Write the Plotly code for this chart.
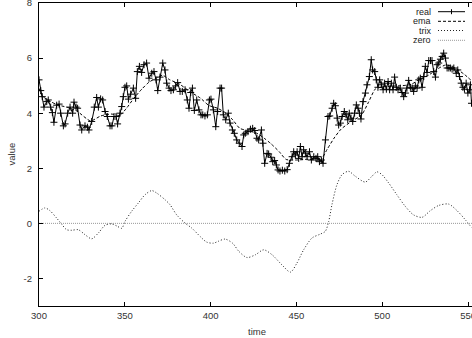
import plotly.graph_objects as go

# ---------------- data ----------------
real_t = [300.0,301.0,301.9,302.9,304.5,305.4,306.8,307.8,308.7,310.3,311.7,312.6,314.2,315.2,316.7,318.1,319.6,320.4,321.6,322.5,
          323.9,324.9,326.8,328.2,329.1,330.7,332.2,333.6,334.6,335.9,337.1,338.5,339.8,341.4,342.5,343.7,344.9,345.8,347.2,348.2,
          349.1,350.1,351.1,352.1,353.4,355.0,356.3,357.3,358.5,359.8,361.2,362.7,364.1,365.7,367.0,368.2,369.2,370.5,372.1,373.4,
          374.4,375.8,376.9,378.3,379.6,380.8,382.2,383.5,385.1,386.4,387.4,388.4,389.4,390.5,391.9,393.2,394.4,395.4,396.7,398.1,
          399.3,400.2,401.6,403.0,404.1,405.5,406.4,407.4,408.8,410.3,411.3,412.7,413.8,415.2,416.7,418.3,419.3,420.2,421.8,423.2,
          424.5,425.7,427.0,428.0,429.6,430.5,431.5,432.9,433.8,435.2,436.2,437.3,438.3,439.3,440.4,441.8,443.2,444.6,445.9,447.5,
          448.4,449.4,450.4,451.3,452.3,453.3,454.2,455.2,456.2,457.6,458.7,460.1,461.4,462.4,463.4,464.5,465.5,466.9,468.4,469.4,
          470.8,471.7,472.7,473.7,474.6,475.6,476.6,477.9,478.9,479.9,480.8,481.8,482.8,483.9,484.9,485.9,486.7,487.6,488.8,490.2,
          491.1,492.5,493.6,494.4,495.6,496.5,497.5,498.5,499.5,500.5,501.4,502.4,503.4,504.3,505.3,506.3,507.2,508.2,509.2,510.5,
          511.5,512.5,513.5,514.4,515.4,516.4,517.4,518.3,519.3,520.3,521.3,522.2,523.2,524.2,525.1,526.1,527.1,528.1,529.0,530.0,
          531.0,532.0,532.9,533.9,534.9,535.8,536.8,537.8,538.8,539.7,540.7,541.7,543.1,544.0,545.0,546.0,547.0,547.9,548.9,549.9,
          550.9,551.4,552.0]
real_v = [5.21,4.82,4.60,4.22,4.42,4.48,4.22,4.02,3.67,4.29,4.33,4.00,3.54,3.61,4.00,4.22,4.00,4.40,4.22,4.18,
          3.57,3.39,3.54,3.49,3.39,3.70,4.22,4.57,4.22,4.52,4.48,4.06,3.88,3.54,3.54,3.88,3.88,3.61,4.00,4.24,
          4.60,4.94,4.99,4.51,4.69,4.91,4.54,5.51,5.70,5.48,5.76,5.82,5.27,5.45,5.51,5.21,4.82,5.31,5.82,5.57,
          5.09,4.91,4.82,4.85,4.99,5.11,4.79,4.79,4.85,4.48,4.18,4.75,4.91,4.10,4.48,4.12,3.94,3.94,3.90,3.94,
          4.48,4.51,4.12,3.51,4.06,4.91,4.91,3.94,3.76,4.00,3.64,3.39,3.27,3.03,2.91,2.79,3.21,3.27,3.33,3.42,
          3.45,3.37,3.09,3.03,3.39,2.91,2.18,2.54,2.52,2.40,2.24,2.28,2.12,1.94,1.90,1.93,1.90,1.95,2.18,2.42,
          2.60,2.48,2.60,2.36,2.79,2.42,2.67,2.55,2.42,2.60,2.30,2.42,2.36,2.42,2.24,2.30,2.18,3.03,3.88,3.90,
          4.18,4.36,4.27,3.82,3.57,3.64,3.88,4.06,3.94,3.76,4.00,3.82,3.70,4.00,4.30,4.18,4.00,3.79,4.42,4.73,
          5.03,5.33,5.94,5.57,5.51,5.21,4.94,5.21,5.03,4.85,5.09,4.87,5.15,4.85,5.09,4.85,5.31,4.94,4.85,4.91,
          4.75,4.60,4.73,4.91,5.19,4.94,4.91,4.79,4.99,4.91,5.21,5.27,4.94,5.33,5.70,5.48,5.91,5.91,5.91,5.51,
          5.31,5.76,5.82,5.96,6.06,6.18,6.00,5.64,5.64,5.64,5.60,5.64,5.45,5.57,5.33,5.09,4.94,4.87,5.09,4.73,
          4.85,5.03,4.36]

ema_t = [300, 302, 310, 316, 322, 330, 336, 342, 347, 351, 355, 360, 364, 369, 372, 376, 382, 388, 394, 399,
         404, 409, 413, 417, 422, 427, 431, 435, 440, 444, 450, 457, 464, 468, 472, 476, 482, 488, 492, 496,
         500, 505, 512, 517, 521, 527, 532, 537, 542, 548, 552]
ema_v = [4.90, 4.62, 4.32, 4.22, 4.08, 3.72, 3.90, 3.97, 3.92, 4.18, 4.52, 4.88, 5.12, 5.30, 5.38, 5.22, 5.05, 4.78, 4.55, 4.28,
         4.18, 4.00, 3.75, 3.45, 3.36, 3.27, 3.10, 2.90, 2.60, 2.32, 2.30, 2.33, 2.30, 2.70, 3.10, 3.42, 3.70, 3.94, 4.40, 4.88,
         4.95, 4.98, 5.00, 5.05, 5.20, 5.38, 5.60, 5.75, 5.66, 5.40, 5.18]

trix_t = [300, 303.5, 306.4, 310.3, 313.2, 316.1, 319, 322.9, 326.8, 330.7, 334.6, 338.5, 342.3, 345.5, 348.2, 350.1, 354, 357.9, 361.8, 365.7,
          368.6, 373.4, 376.3, 380.2, 385.1, 389, 393.8, 397.7, 401.6, 404.5, 408.4, 412.8, 416.5, 421.2, 426.1, 430.9, 435.8, 441.6, 446.5, 450.3,
          454.2, 459.1, 463.9, 466.8, 468.8, 470.7, 473.6, 476.6, 480.4, 484.3, 490.1, 494, 496.9, 499.8, 503.7, 508.5, 513.4, 518.2, 523.2, 528,
          532.9, 538.7, 543.6, 548.4, 552]
trix_v = [0.44, 0.56, 0.46, 0.19, -0.03, -0.23, -0.25, -0.23, -0.41, -0.56, -0.35, -0.07, -0.02, -0.10, -0.18, 0.07, 0.44, 0.74, 1.04, 1.19,
          1.10, 0.86, 0.68, 0.31, 0.01, -0.17, -0.47, -0.68, -0.72, -0.65, -0.57, -0.72, -1.02, -1.24, -1.14, -0.96, -1.14, -1.51, -1.77, -1.44,
          -0.96, -0.53, -0.39, -0.29, 0.07, 0.68, 1.40, 1.77, 1.89, 1.71, 1.50, 1.71, 1.87, 1.77, 1.47, 1.04, 0.62, 0.31, 0.22, 0.46,
          0.65, 0.70, 0.46, 0.13, -0.15]

zero_t = [300, 552.3]
zero_v = [0, 0]

x_ticks = [300, 350, 400, 450, 500, 550]
x_tick_labels = ["300", "350", "400", "450", "500", "550"]
y_ticks = [-2, 0, 2, 4, 6, 8]
y_tick_labels = ["-2", "0", "2", "4", "6", "8"]
series_names = ["real", "ema", "trix", "zero"]
x_range = [300, 552.3]
y_range = [-3, 8]

# ---------------- figure ----------------
FONT = "Liberation Sans, Arial, sans-serif"
fig = go.Figure()
fig.add_trace(go.Scatter(x=real_t, y=real_v, mode="lines+markers", name=series_names[0],
                         line=dict(color="black", width=1),
                         marker=dict(symbol="cross-thin", size=5, line=dict(color="black", width=1))))
fig.add_trace(go.Scatter(x=ema_t, y=ema_v, mode="lines", name=series_names[1],
                         line=dict(color="black", width=1, dash="3px,2px", shape="spline", smoothing=0.6)))
fig.add_trace(go.Scatter(x=trix_t, y=trix_v, mode="lines", name=series_names[2],
                         line=dict(color="#222", width=1, dash="1px,2px", shape="spline", smoothing=0.8)))
fig.add_trace(go.Scatter(x=zero_t, y=zero_v, mode="lines", name=series_names[3],
                         line=dict(color="#9a9a9a", width=1, dash="1px,1px")))

axis_common = dict(showgrid=False, zeroline=False, showline=True, linecolor="black", linewidth=1.3,
                   ticks="inside", ticklen=4, tickcolor="black", tickwidth=1,
                   tickfont=dict(family=FONT, size=9.5, color="#333"), automargin=False,
                   ticklabeloverflow="allow")
fig.update_xaxes(range=x_range, tickvals=x_ticks, ticktext=x_tick_labels, mirror="ticks", **axis_common)
fig.update_yaxes(range=y_range, tickvals=y_ticks, ticktext=y_tick_labels, mirror=False,
                 ticklabelstandoff=4, **axis_common)

# custom gnuplot-style legend (text left of sample)
row_offsets = [-8.7, -18.3, -27.5, -37.3]
dashes = ["solid", "3px,2px", "1px,2px", "1px,1px"]
colors = ["black", "black", "#222", "#9a9a9a"]
shapes = []
annotations = []
for name, dy, dsh, col in zip(series_names, row_offsets, dashes, colors):
    annotations.append(dict(text=name, xref="paper", yref="paper", x=1, y=1, xanchor="right", yanchor="middle",
                            xshift=-40, yshift=dy, showarrow=False, borderpad=0,
                            font=dict(family=FONT, size=9, color="#222")))
    shapes.append(dict(type="line", xref="paper", yref="paper", xsizemode="pixel", ysizemode="pixel",
                       xanchor=1, yanchor=1, x0=-34, x1=-7, y0=dy, y1=dy,
                       line=dict(color=col, width=1, dash=dsh)))
shapes.append(dict(type="line", xref="paper", yref="paper", xsizemode="pixel", ysizemode="pixel",
                   xanchor=1, yanchor=1, x0=-20.5, x1=-20.5, y0=row_offsets[0] - 2.5, y1=row_offsets[0] + 2.5,
                   line=dict(color="black", width=1)))

annotations.append(dict(text="time", xref="paper", yref="paper", x=0.503, y=0, yshift=-25,
                        xanchor="center", yanchor="middle", showarrow=False,
                        font=dict(family=FONT, size=9.5, color="#333")))
annotations.append(dict(text="value", xref="paper", yref="paper", x=0, y=0.5, xshift=-28,
                        xanchor="center", yanchor="middle", textangle=-90, showarrow=False,
                        font=dict(family=FONT, size=9.5, color="#333")))

fig.update_layout(width=472, height=338, margin=dict(l=39, r=0, t=3, b=32),
                  paper_bgcolor="white", plot_bgcolor="white", showlegend=False,
                  shapes=shapes, annotations=annotations)

fig.write_html("out.html", config={"displayModeBar": False},
               post_script="document.body.style.margin='0';document.body.style.padding='0';"
                           "document.body.style.overflow='hidden';")
